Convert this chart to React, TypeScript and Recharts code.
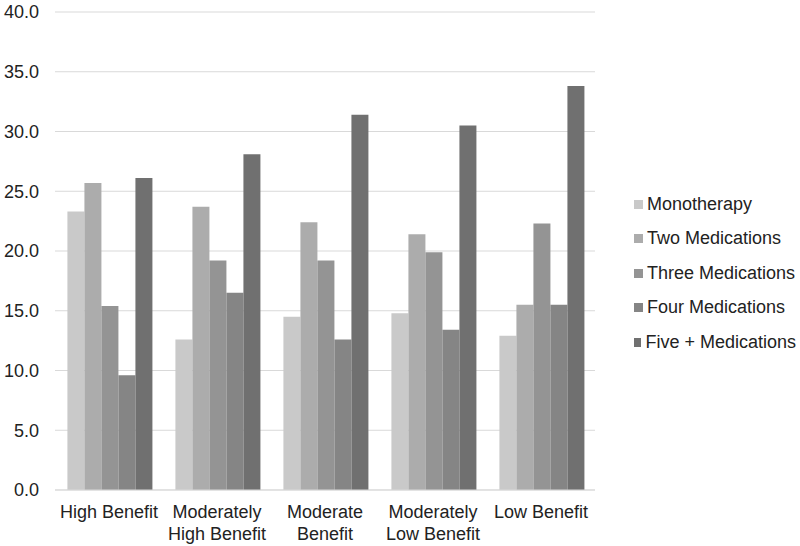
import { BarChart, Bar, XAxis, YAxis, CartesianGrid, Legend } from "recharts";

const categories = [
    "High Benefit",
    "Moderately High Benefit",
    "Moderate Benefit",
    "Moderately Low Benefit",
    "Low Benefit",
];
const monotherapy = [23.3, 12.6, 14.5, 14.8, 12.9];
const twoMeds = [25.7, 23.7, 22.4, 21.4, 15.5];
const threeMeds = [15.4, 19.2, 19.2, 19.9, 22.3];
const fourMeds = [9.6, 16.5, 12.6, 13.4, 15.5];
const fiveMeds = [26.1, 28.1, 31.4, 30.5, 33.8];
const yTicks = [0, 5, 10, 15, 20, 25, 30, 35, 40];

const series = [
    { key: "mono", name: "Monotherapy", color: "#c9c9c9" },
    { key: "two", name: "Two Medications", color: "#acacac" },
    { key: "three", name: "Three Medications", color: "#949494" },
    { key: "four", name: "Four Medications", color: "#858585" },
    { key: "five", name: "Five + Medications", color: "#707070" },
];

const data = categories.map((name, i) => ({
    name,
    mono: monotherapy[i],
    two: twoMeds[i],
    three: threeMeds[i],
    four: fourMeds[i],
    five: fiveMeds[i],
}));

const font = "'Liberation Sans', Arial, sans-serif";

function CategoryTick({ x, y, payload }: any) {
    const label: string = payload.value;
    let lines = [label];
    if (label.length > 13) {
        const idx = label.indexOf(" ");
        lines = [label.slice(0, idx), label.slice(idx + 1)];
    }
    return (
        <text x={x} y={y} textAnchor="middle" fill="#222" fontSize={18} fontFamily={font}>
            {lines.map((l, i) => (
                <tspan key={i} x={x} dy={i === 0 ? 20 : 22}>
                    {l}
                </tspan>
            ))}
        </text>
    );
}

function LegendList() {
    return (
        <div style={{ fontFamily: font, fontSize: 18, color: "#222" }}>
            {series.map((s) => (
                <div key={s.key} style={{ display: "flex", alignItems: "center", height: 34.5 }}>
                    <span style={{ width: 9, height: 9, background: s.color, marginRight: 4, display: "inline-block" }} />
                    <span style={{ whiteSpace: "nowrap" }}>{s.name}</span>
                </div>
            ))}
        </div>
    );
}

export default function App() {
    return (
        <div style={{ position: "absolute", left: 0, top: 0, background: "#fff" }}>
            <BarChart
                width={800}
                height={546}
                data={data}
                margin={{ top: 12, right: 43, bottom: 0, left: 0 }}
                barCategoryGap="11.5%"
                barGap={0}
            >
                <CartesianGrid vertical={false} stroke="#d9d9d9" />
                <XAxis
                    dataKey="name"
                    tick={<CategoryTick />}
                    tickLine={false}
                    axisLine={{ stroke: "#d9d9d9" }}
                    height={56}
                    interval={0}
                />
                <YAxis
                    domain={[0, 40]}
                    ticks={yTicks}
                    tickFormatter={(v: number) => v.toFixed(1)}
                    tickLine={false}
                    axisLine={false}
                    tickSize={0}
                    tickMargin={16}
                    width={55}
                    tick={{ fill: "#222", fontSize: 18, fontFamily: font }}
                />
                <Legend
                    layout="vertical"
                    align="right"
                    verticalAlign="middle"
                    content={<LegendList />}
                    wrapperStyle={{ right: 4, width: 162 }}
                />
                {series.map((s) => (
                    <Bar key={s.key} dataKey={s.key} name={s.name} fill={s.color} isAnimationActive={false} />
                ))}
            </BarChart>
        </div>
    );
}
